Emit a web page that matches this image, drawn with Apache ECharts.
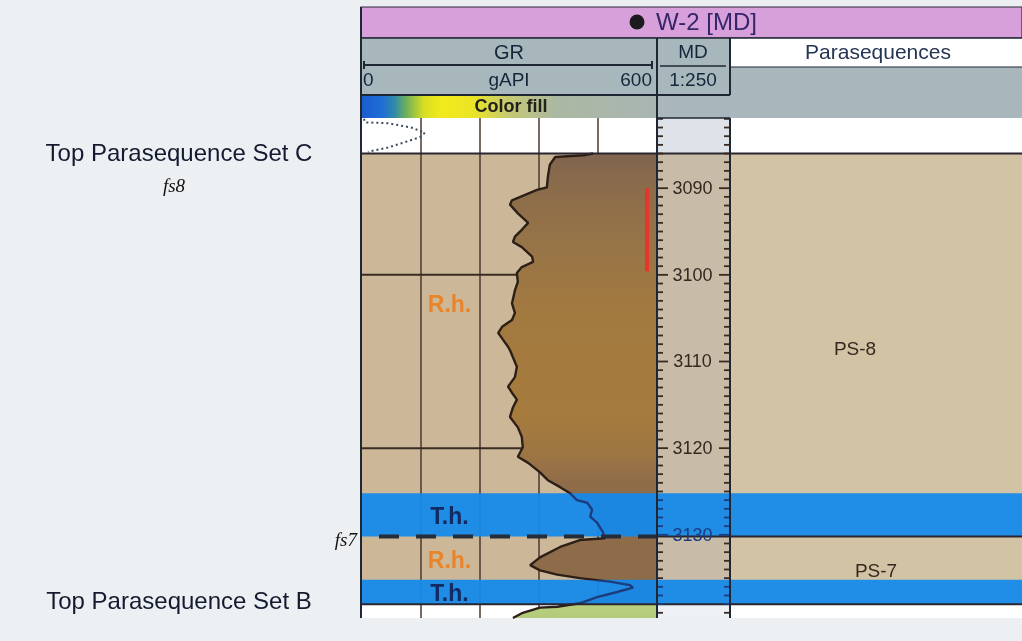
<!DOCTYPE html>
<html>
<head>
<meta charset="utf-8">
<title>W-2 [MD] – GR and parasequences</title>
<script src="https://cdn.jsdelivr.net/npm/echarts@6/dist/echarts.min.js"></script>
<style>
  html, body { margin: 0; padding: 0; background: #edf0f3; }
  #chart { width: 1022px; height: 641px; }
</style>
</head>
<body>
<div id="chart"></div>
<script>
// ---- Depth window of the log panel (MD, m) ----
const depthTop = 3081.9;
const depthBase = 3139.6;

// ---- GR curve above the fs8 top (dotted, unfilled) ----
const grUpperDepth = [3082.0, 3082.4, 3082.5, 3083.0, 3083.6, 3084.1, 3084.7, 3085.3, 3085.8];
const grUpperValue = [4, 6, 53, 100, 128, 118, 87, 53, 12];

// ---- GR curve from fs8 to the end of the log (gAPI) ----
const grDepth = [3086.0, 3086.2, 3086.4, 3087.3, 3088.7, 3089.9, 3090.2, 3091.4, 3091.9, 3092.9,
  3094.0, 3094.8, 3095.6, 3096.2, 3096.8, 3097.9, 3098.5, 3099.1, 3099.8, 3100.8,
  3101.8, 3103.3, 3104.4, 3105.2, 3106.0, 3106.7, 3107.5, 3108.3, 3108.7, 3110.6,
  3111.8, 3112.9, 3113.6, 3114.4, 3115.3, 3116.4, 3117.6, 3118.7, 3119.9, 3121.0,
  3121.7, 3122.8, 3123.7, 3124.5, 3125.2, 3126.0, 3126.3, 3127.1, 3127.9, 3128.6,
  3129.7, 3130.4, 3130.6, 3131.4, 3132.6, 3133.5, 3134.1, 3134.6, 3135.0, 3135.4,
  3135.8, 3136.1, 3136.6, 3137.2, 3137.9, 3138.3, 3138.4, 3139.0, 3139.6];
const grValue = [470, 450, 393, 382, 378, 376, 356, 305, 301, 317,
  338, 325, 311, 307, 325, 346, 348, 325, 315, 317,
  311, 305, 311, 305, 285, 277, 287, 297, 301, 315,
  311, 297, 305, 315, 307, 301, 317, 325, 327, 317,
  338, 362, 378, 403, 423, 437, 458, 468, 464, 478,
  490, 494, 443, 403, 362, 342, 362, 397, 443, 504,
  545, 551, 519, 478, 443, 397, 362, 327, 307];

// ---- GR scale and grid ----
const grMin = 0;
const grMax = 600;
const grGridValues = [120, 240, 360, 480];
const grGridDepths = [3100, 3120];

// ---- MD track labels (m) ----
const mdLabels = [3090, 3100, 3110, 3120, 3130];

// ---- Cored interval (m) ----
const coreTop = 3090.0;
const coreBase = 3099.6;

// ---- Facies intervals ----
const faciesTop = [3086.0, 3125.2, 3130.2, 3135.2];
const faciesBase = [3125.2, 3130.2, 3135.2, 3138.0];
const faciesCode = ['R.h.', 'T.h.', 'R.h.', 'T.h.'];
const faciesLabelDepth = [3103.5, 3128.0, 3133.1, 3136.9];

// ---- Parasequences ----
const psName = ['PS-8', 'PS-7'];
const psTop = [3086.0, 3130.2];
const psBase = [3130.2, 3138.0];
const psLabelDepth = [3108.7, 3134.3];

// ---- Well tops and flooding surfaces ----
const topNames = ['Top Parasequence Set C', 'Top Parasequence Set B'];
const topDepths = [3086.0, 3138.0];
const surfaceNames = ['fs8', 'fs7'];
const surfaceDepths = [3086.0, 3130.2];

// ------------------------------------------------------------------
const FONT = "'Liberation Sans', Arial, sans-serif";
const INK = '#15263a';
const LINE = '#2a2630';
const BLUE = '#1489ea';
const NAVY = '#1c3c7e';
const CURVE = '#2b1f17';

const chart = echarts.init(document.getElementById('chart'));

// track geometry (GR, MD, Parasequences)
const grids = [
  { left: 362, top: 118, width: 295, height: 500 },
  { left: 657, top: 118, width: 73, height: 500 },
  { left: 730, top: 118, width: 292, height: 500 }
];
const xMaxOf = [grMax, 1, 1];

const inThinBed = d => faciesCode.some((c, i) => c === 'T.h.' && d >= faciesTop[i] && d <= faciesBase[i]);

function rectSeries(gi, rows, z, opacity) {
  return {
    type: 'custom', xAxisIndex: gi, yAxisIndex: gi, z, silent: true,
    data: rows.map(r => [0, r[0]]),
    renderItem(params, api) {
      const r = rows[params.dataIndex];
      const a = api.coord([0, r[0]]);
      const b = api.coord([xMaxOf[gi], r[1]]);
      return {
        type: 'rect',
        shape: { x: a[0], y: a[1], width: b[0] - a[0], height: b[1] - a[1] },
        style: { fill: r[2], opacity: opacity }
      };
    }
  };
}

const series = [];

// zone backgrounds for each track
const zoneRows = (cAbove, cMain, cBelow) => [
  [depthTop, topDepths[0], cAbove],
  [topDepths[0], topDepths[1], cMain],
  [topDepths[1], depthBase, cBelow]
];
series.push(rectSeries(0, zoneRows('#ffffff', '#ccb899', '#ffffff'), 1, 1));
series.push(rectSeries(1, zoneRows('#dde3e8', '#c8bca9', '#eef1f3'), 1, 1));
series.push(rectSeries(2, zoneRows('#ffffff', '#d3c3a5', '#ffffff'), 1, 1));

// GR track grid
series.push({
  type: 'custom', xAxisIndex: 0, yAxisIndex: 0, z: 2, silent: true,
  data: [[0, depthTop]],
  renderItem(params, api) {
    const children = [];
    grGridValues.forEach(v => {
      const a = api.coord([v, depthTop]), b = api.coord([v, depthBase]);
      children.push({ type: 'line', shape: { x1: a[0], y1: a[1], x2: b[0], y2: b[1] },
        style: { stroke: '#4a3a30', lineWidth: 1.5 } });
    });
    grGridDepths.forEach(d => {
      const a = api.coord([grMin, d]), b = api.coord([grMax, d]);
      children.push({ type: 'line', shape: { x1: a[0], y1: a[1], x2: b[0], y2: b[1] },
        style: { stroke: '#3a2c24', lineWidth: 2 } });
    });
    return { type: 'group', children };
  }
});

// GR colour fill, curve to the right edge of the track
const fillStops = [
  [3086.0, '#816450'], [3090.0, '#8b6c4b'], [3097.0, '#987547'], [3104.0, '#a2793f'],
  [3116.0, '#a67b3d'], [3121.0, '#9c7544'], [3124.0, '#8f6c49'], [3137.95, '#8d6c4a'],
  [3138.0, '#b9d07f'], [3139.6, '#b3ca7a']
];
series.push({
  type: 'custom', xAxisIndex: 0, yAxisIndex: 0, z: 3, silent: true,
  data: [[grMax, grDepth[0]]],
  renderItem(params, api) {
    const pts = grDepth.map((d, i) => api.coord([grValue[i], d]));
    const d0 = grDepth[0], d1 = grDepth[grDepth.length - 1];
    pts.push(api.coord([grMax, d1]));
    pts.push(api.coord([grMax, d0]));
    const grad = new echarts.graphic.LinearGradient(0, 0, 0, 1,
      fillStops.map(s => ({ offset: (s[0] - d0) / (d1 - d0), color: s[1] })));
    return { type: 'polygon', shape: { points: pts }, style: { fill: grad } };
  }
});

// thin-bedded facies bands across all tracks
const thinRows = faciesCode.map((c, i) => [faciesTop[i], faciesBase[i], BLUE]).filter((r, i) => faciesCode[i] === 'T.h.');
[0, 1, 2].forEach(gi => series.push(rectSeries(gi, thinRows, 4, 0.94)));

// GR curve
const curveIndex = series.length;
series.push({
  type: 'line', xAxisIndex: 0, yAxisIndex: 0, z: 5, silent: true,
  data: grDepth.map((d, i) => [grValue[i], d]),
  showSymbol: false, symbol: 'none',
  lineStyle: { width: 2.4 }
});
series.push({
  type: 'line', xAxisIndex: 0, yAxisIndex: 0, z: 5, silent: true,
  data: grUpperDepth.map((d, i) => [grUpperValue[i], d]),
  showSymbol: false, symbol: 'none',
  lineStyle: { width: 2, color: '#3d4a5c', type: [2, 3] }
});

// cored interval marker
series.push({
  type: 'custom', xAxisIndex: 0, yAxisIndex: 0, z: 5, silent: true,
  data: [[grMax, coreTop]],
  renderItem(params, api) {
    const a = api.coord([grMax, coreTop]), b = api.coord([grMax, coreBase]);
    return { type: 'line', shape: { x1: a[0] - 10, y1: a[1], x2: b[0] - 10, y2: b[1] },
      style: { stroke: '#e8352c', lineWidth: 4 } };
  }
});

// well tops and flooding surfaces across the tracks
series.push({
  type: 'custom', xAxisIndex: 0, yAxisIndex: 0, z: 6, silent: true, clip: false,
  data: [[0, depthTop]],
  renderItem(params, api) {
    const children = [];
    const xL = api.coord([grMin, depthTop])[0], xR = api.coord([grMax, depthTop])[0];
    const xEnd = grids[2].left + grids[2].width;
    topDepths.forEach(d => {
      const y = api.coord([0, d])[1];
      children.push({ type: 'line', shape: { x1: xL - 1, y1: y, x2: xEnd, y2: y },
        style: { stroke: LINE, lineWidth: 2 } });
    });
    surfaceDepths.forEach(d => {
      if (topDepths.indexOf(d) >= 0) return;
      const y = api.coord([0, d])[1];
      children.push({ type: 'line', shape: { x1: xL, y1: y, x2: xR, y2: y },
        style: { stroke: '#262d38', lineWidth: 4, lineDash: [20, 17], lineDashOffset: 20 } });
      children.push({ type: 'line', shape: { x1: xR, y1: y, x2: xEnd, y2: y },
        style: { stroke: LINE, lineWidth: 2 } });
    });
    return { type: 'group', children };
  }
});

// MD ticks and depth labels
const mdTickDepths = [];
for (let d = Math.ceil(depthTop); d <= Math.floor(depthBase); d++) mdTickDepths.push(d);
series.push({
  type: 'custom', xAxisIndex: 1, yAxisIndex: 1, z: 6, silent: true,
  data: mdTickDepths.map(d => [0, d]),
  renderItem(params, api) {
    const d = mdTickDepths[params.dataIndex];
    const a = api.coord([0, d]), b = api.coord([1, d]);
    const major = mdLabels.indexOf(d) >= 0;
    const len = major ? 11 : 6;
    const col = inThinBed(d) ? NAVY : '#3a2a20';
    const children = [
      { type: 'line', shape: { x1: a[0], y1: a[1], x2: a[0] + len, y2: a[1] }, style: { stroke: col, lineWidth: 1.8 } },
      { type: 'line', shape: { x1: b[0] - len, y1: b[1], x2: b[0], y2: b[1] }, style: { stroke: col, lineWidth: 1.8 } }
    ];
    if (major) {
      children.push({ type: 'text', x: (a[0] + b[0]) / 2 - 1, y: a[1] + 1,
        style: { text: String(d), fill: inThinBed(d) ? NAVY : '#33291f', font: `18px ${FONT}`,
          align: 'center', verticalAlign: 'middle' } });
    }
    return { type: 'group', children };
  }
});

// facies labels in the GR track
series.push({
  type: 'custom', xAxisIndex: 0, yAxisIndex: 0, z: 7, silent: true,
  data: faciesLabelDepth.map(d => [180, d]),
  renderItem(params, api) {
    const i = params.dataIndex;
    const p = api.coord([180, faciesLabelDepth[i]]);
    const thin = faciesCode[i] === 'T.h.';
    return { type: 'text', x: p[0] - 1, y: p[1],
      style: { text: faciesCode[i], fill: thin ? '#142a62' : '#e8852a', font: `bold 23px ${FONT}`,
        align: 'center', verticalAlign: 'middle' } };
  }
});

// parasequence labels (PS-8 sits a little left of the track centre)
const psLabelShift = [-21, 0];
series.push({
  type: 'custom', xAxisIndex: 2, yAxisIndex: 2, z: 7, silent: true,
  data: psLabelDepth.map(d => [0.5, d]),
  renderItem(params, api) {
    const i = params.dataIndex;
    const p = api.coord([0.5, psLabelDepth[i]]);
    return { type: 'text', x: p[0] + psLabelShift[i], y: p[1],
      style: { text: psName[i], fill: '#33291f', font: `19px ${FONT}`, align: 'center', verticalAlign: 'middle' } };
  }
});

// well top names and surface names left of the panel
series.push({
  type: 'custom', xAxisIndex: 0, yAxisIndex: 0, z: 7, silent: true, clip: false,
  data: [[0, depthTop]],
  renderItem(params, api) {
    const children = [];
    const xL = api.coord([grMin, depthTop])[0];
    topNames.forEach((n, i) => {
      const y = api.coord([0, topDepths[i]])[1];
      children.push({ type: 'text', x: 179, y: i === 0 ? y + 1 : y - 2,
        style: { text: n, fill: '#141a30', font: `24px ${FONT}`, align: 'center', verticalAlign: 'middle' } });
    });
    surfaceNames.forEach((n, i) => {
      const y = api.coord([0, surfaceDepths[i]])[1];
      const first = i === 0;
      children.push({ type: 'text', x: first ? 174 : xL - 5, y: first ? y + 33 : y + 4,
        style: { text: n, fill: '#111', font: `italic 19px 'Liberation Serif', serif`,
          align: first ? 'center' : 'right', verticalAlign: 'middle' } });
    });
    return { type: 'group', children };
  }
});

// ---- Header ----
const hdr = [];
const addRect = (x, y, w, h, fill, stroke) => hdr.push({ type: 'rect', z: 100,
  shape: { x, y, width: w, height: h }, style: { fill, stroke: stroke || null, lineWidth: 1.2 } });
const addLine = (x1, y1, x2, y2, w, c) => hdr.push({ type: 'line', z: 101,
  shape: { x1, y1, x2, y2 }, style: { stroke: c || '#1e2733', lineWidth: w || 1.5 } });
const addText = (t, x, y, font, align, fill) => hdr.push({ type: 'text', z: 102, x, y,
  style: { text: t, font, fill: fill || INK, align: align || 'center', verticalAlign: 'middle' } });

addRect(361, 7, 661, 31, '#d8a0da', '#2b2b38');
hdr.push({ type: 'circle', z: 102, shape: { cx: 637, cy: 22, r: 7.5 }, style: { fill: '#1b1b1f' } });
addText('W-2 [MD]', 656, 23, `24px ${FONT}`, 'left', '#35266a');

addRect(361, 38, 296, 57, '#a8b7bc');
addRect(657, 38, 73, 57, '#a8b7bc');
addRect(730, 38, 292, 29, '#ffffff');
addRect(730, 67, 292, 51, '#a9b6bc');
hdr.push({ type: 'rect', z: 100, shape: { x: 362, y: 95, width: 295, height: 23 },
  style: { fill: new echarts.graphic.LinearGradient(0, 0, 1, 0, [
    { offset: 0, color: '#1a5cd0' }, { offset: 0.07, color: '#1f6fd6' },
    { offset: 0.11, color: '#2f8aa8' }, { offset: 0.15, color: '#6fb05a' },
    { offset: 0.21, color: '#d8de22' }, { offset: 0.27, color: '#f2ea1c' },
    { offset: 0.38, color: '#eae426' }, { offset: 0.5, color: '#c4c874' },
    { offset: 0.66, color: '#aab8a2' }, { offset: 1, color: '#a9b5b3' }]) } });
addRect(657, 95, 73, 23, '#a9b6bc');

addText('GR', 509, 53, `20px ${FONT}`);
addLine(364, 65, 652, 65, 2);
addLine(364, 61, 364, 69, 2);
addLine(652, 61, 652, 69, 2);
addText('0', 363, 81, `19px ${FONT}`, 'left');
addText('gAPI', 509, 81, `19px ${FONT}`);
addText('600', 652, 81, `19px ${FONT}`, 'right');
addText('Color fill', 511, 107, `bold 18px ${FONT}`, 'center', '#22221a');
addText('MD', 693, 53, `19px ${FONT}`);
addLine(660, 66, 726, 66, 1.5);
addText('1:250', 693, 81, `19px ${FONT}`);
addText('Parasequences', 878, 53, `21px ${FONT}`, 'center', '#243454');

// frame lines
addLine(361, 38, 1022, 38, 1.5);
addLine(361, 95, 730, 95, 1.8);
addLine(730, 67, 1022, 67, 1.2);
addLine(657, 118, 730, 118, 1.5);
addLine(361, 7, 361, 618, 2);
addLine(657, 38, 657, 618, 2);
addLine(730, 38, 730, 95, 2);
addLine(730, 118, 730, 618, 2);

chart.setOption({
  animation: false,
  backgroundColor: '#edf0f3',
  grid: grids.map(g => Object.assign({ containLabel: false }, g)),
  xAxis: grids.map((g, i) => ({ gridIndex: i, type: 'value', min: i === 0 ? grMin : 0, max: xMaxOf[i], show: false })),
  yAxis: grids.map((g, i) => ({ gridIndex: i, type: 'value', min: depthTop, max: depthBase, inverse: true, show: false })),
  visualMap: [{
    show: false, type: 'piecewise', seriesIndex: curveIndex, dimension: 1,
    pieces: faciesCode.map((c, i) => ({ c, min: faciesTop[i], max: faciesBase[i] }))
      .filter(p => p.c === 'T.h.').map(p => ({ min: p.min, max: p.max, color: NAVY })),
    outOfRange: { color: CURVE }
  }],
  graphic: hdr,
  series
});
</script>
</body>
</html>
